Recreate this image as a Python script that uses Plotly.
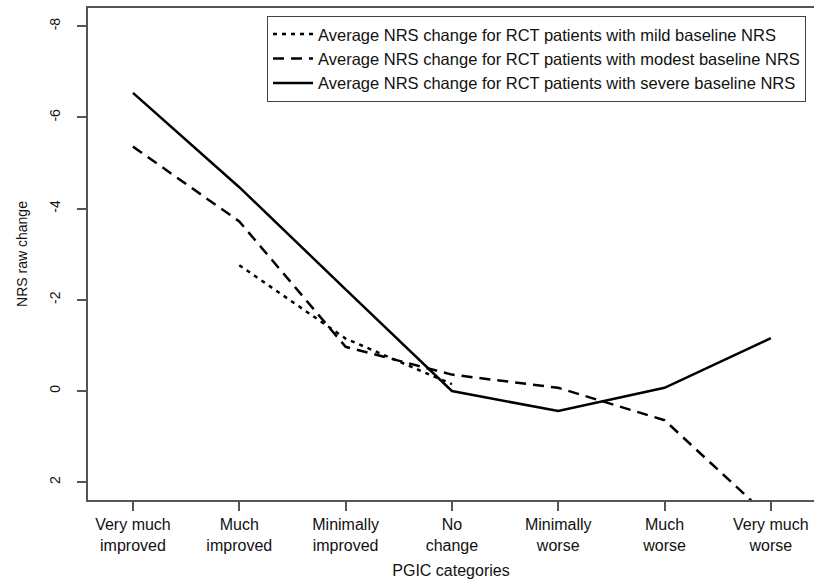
import plotly.graph_objects as go

categories = ["Very much<br>improved", "Much<br>improved", "Minimally<br>improved", "No<br>change",
              "Minimally<br>worse", "Much<br>worse", "Very much<br>worse"]
x_pos = [1, 2, 3, 4, 5, 6, 7]

mild = [None, -2.76, -1.15, -0.15, None, None, None]
modest = [-5.36, -3.72, -0.97, -0.36, -0.07, 0.64, 2.8]
severe = [-6.54, -4.47, -2.23, 0.0, 0.44, -0.07, -1.16]

names = ["Average NRS change for RCT patients with mild baseline NRS",
         "Average NRS change for RCT patients with modest baseline NRS",
         "Average NRS change for RCT patients with severe baseline NRS"]

y_ticks = [-8, -6, -4, -2, 0, 2]

FONT = "Arial, Liberation Sans, sans-serif"
AX = "#555555"

fig = go.Figure()
fig.add_trace(go.Scatter(x=x_pos, y=mild, mode="lines", name=names[0],
                         line=dict(color="black", width=2.5, dash="4px,5px")))
fig.add_trace(go.Scatter(x=x_pos, y=modest, mode="lines", name=names[1],
                         line=dict(color="black", width=2.5, dash="11px,7px")))
fig.add_trace(go.Scatter(x=x_pos, y=severe, mode="lines", name=names[2],
                         line=dict(color="black", width=2.5)))

fig.update_layout(
    width=814, height=579,
    margin=dict(l=88, r=0, t=8, b=76),
    paper_bgcolor="white", plot_bgcolor="white",
    font=dict(family=FONT, color="#111111", size=16),
    showlegend=True,
    legend=dict(x=0.989, y=0.984, xanchor="right", yanchor="top",
                bordercolor="#444444", borderwidth=1, bgcolor="white",
                font=dict(size=16.5, family=FONT), tracegroupgap=0,
                itemwidth=40),
    xaxis=dict(range=[0.577, 7.406], tickmode="array", tickvals=x_pos, ticktext=categories,
               showline=True, linecolor=AX, linewidth=1.5, mirror=True,
               ticks="outside", ticklen=9, tickcolor=AX, tickwidth=1.5,
               showgrid=False, zeroline=False,
               tickfont=dict(size=16, family=FONT),
               title=dict(text="PGIC categories", font=dict(size=16, family=FONT), standoff=14)),
    yaxis=dict(range=[2.39, -8.4], tickmode="array", tickvals=y_ticks,
               ticktext=[str(v) for v in y_ticks], tickangle=-90,
               showline=True, linecolor=AX, linewidth=1.5, mirror=False,
               ticks="outside", ticklen=9, tickcolor=AX, tickwidth=1.5,
               showgrid=False, zeroline=False, ticklabelstandoff=12,
               tickfont=dict(size=14, family=FONT),
               title=dict(text="NRS raw change", font=dict(size=14, family=FONT), standoff=16)),
)

fig.write_html("out.html")
